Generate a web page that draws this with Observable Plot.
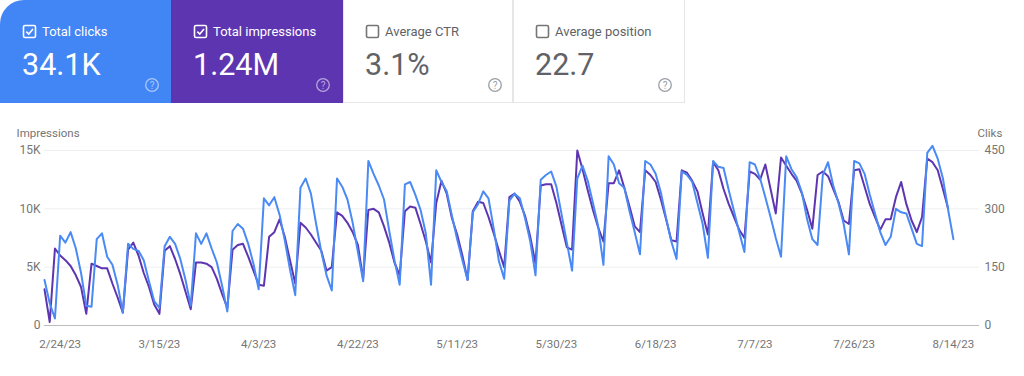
<!DOCTYPE html>
<html>
<head>
<meta charset="utf-8">
<script src="https://cdn.jsdelivr.net/npm/d3@7"></script>
<script src="https://cdn.jsdelivr.net/npm/@observablehq/plot@0.6"></script>
<style>
  html, body { margin: 0; padding: 0; background: #fff; }
  body { width: 1024px; height: 376px; overflow: hidden; font-family: Roboto, "Noto Sans", sans-serif; }
  #header, #chart { display: block; }
  #chart svg { display: block; }
</style>
</head>
<body>
<div id="header"></div>
<div id="chart"></div>
<script>
// ---------- summary cards ----------
const cardTitles = ["Total clicks", "Total impressions", "Average CTR", "Average position"];
const cardValues = ["34.1K", "1.24M", "3.1%", "22.7"];
const cardChecked = [true, true, false, false];
const cardFills = ["#4285f4", "#5e35b1", "#ffffff", "#ffffff"];

// ---------- daily series (2/21/23 .. 8/14/23) ----------
const startDay = "2023-02-21";
const clicks = [
  117,57,18,231,213,240,198,135,51,48,
  222,237,177,156,105,33,210,197,192,168,
  114,63,45,204,228,210,171,117,51,237,
  210,237,198,162,102,36,243,261,249,210,
  159,93,327,309,330,285,219,144,78,354,
  378,339,261,189,129,90,378,357,324,264,
  189,114,423,390,360,324,243,168,105,363,
  369,336,297,237,105,399,369,345,282,222,
  168,117,291,312,345,327,249,165,120,321,
  339,327,276,216,129,375,387,396,357,285,
  213,141,378,411,372,315,255,156,435,414,
  366,354,294,240,183,423,414,390,342,276,
  216,171,396,387,369,315,261,174,423,408,
  405,348,294,240,189,420,414,378,330,279,
  225,177,435,402,381,342,273,222,207,387,
  420,360,315,261,183,423,417,390,336,288,
  240,207,228,300,291,288,249,210,204,444,
  462,429,378,297,222
];
const impressions = [
  3100,300,6600,6000,5600,5100,4300,3300,1000,5300,
  5100,4900,4900,3600,2400,1100,6500,7100,6000,4500,
  3300,1800,1000,6400,6800,5700,4400,2900,1400,5400,
  5400,5300,5000,4000,2700,1500,6500,6900,7000,5900,
  4700,3500,3400,7600,8000,9100,7600,5600,3600,8800,
  8400,7800,7100,6400,4700,5000,9700,9400,8800,8000,
  6900,4000,9900,10000,9700,8500,7100,5400,4300,9800,
  10200,10100,8700,7200,5400,10500,12400,11300,9200,7800,
  6000,3900,9800,10600,10500,9300,7900,6400,5000,11000,
  11300,10600,9400,7600,5300,12000,12100,12100,10500,8600,
  6700,6500,15000,13400,11600,9900,8400,7200,12200,12200,
  13300,11800,10200,8500,8000,13300,12900,12300,10800,9100,
  7300,7200,13300,13100,12400,11500,9600,7800,14000,13300,
  11700,10400,9300,8200,7500,13200,13000,12500,13800,11700,
  9600,14400,13700,13000,12400,11300,9900,8300,12900,13200,
  12800,11700,10600,9000,8700,13300,13400,11900,10400,9300,
  8200,9100,9100,11000,12300,10400,9000,8000,9300,14300,
  14000,13300,11700,10000,null
];

// ---------- axes ----------
const xTickDates = ["2023-02-24","2023-03-15","2023-04-03","2023-04-22","2023-05-11","2023-05-30","2023-06-18","2023-07-07","2023-07-26","2023-08-14"];
const xTickLabels = ["2/24/23","3/15/23","4/3/23","4/22/23","5/11/23","5/30/23","6/18/23","7/7/23","7/26/23","8/14/23"];
const yTicks = [0, 5000, 10000, 15000];
const yLeftLabels = ["0", "5K", "10K", "15K"];
const yRightLabels = ["0", "150", "300", "450"];
const leftTitle = "Impressions";
const rightTitle = "Cliks";
const clicksMax = 450, impressionsMax = 15000;

// ---------- header drawing ----------
const hdr = d3.select("#header").append("svg").attr("width", 1024).attr("height", 104).style("display", "block");
const cardW = [171, 172, 170, 172];
let cx = 0;
cardTitles.forEach((title, i) => {
  const x0 = cx; cx += cardW[i];
  const w = cardW[i];
  const g = hdr.append("g").attr("transform", `translate(${x0},0)`);
  const dark = cardFills[i] !== "#ffffff";
  if (i === 0) {
    g.append("path").attr("d", `M0,24 A24,24 0 0 1 24,0 H${w} V103 H0 Z`).attr("fill", cardFills[i]);
  } else if (dark) {
    g.append("rect").attr("width", w).attr("height", 103).attr("fill", cardFills[i]);
  } else {
    g.append("rect").attr("x", 0.5).attr("y", -1).attr("width", w - 1).attr("height", 103.5)
      .attr("fill", "#fff").attr("stroke", "#e6e6e6");
  }
  const fg = dark ? "#ffffff" : "#5f6368";
  const boxC = dark ? "#ffffff" : "#757575";
  g.append("rect").attr("x", 23.5).attr("y", 25.5).attr("width", 12).attr("height", 12).attr("rx", 1.5)
    .attr("fill", "none").attr("stroke", boxC).attr("stroke-width", 1.6);
  if (cardChecked[i]) {
    g.append("path").attr("d", "M26.3,31.6 L28.8,34.1 L33,29.1").attr("fill", "none")
      .attr("stroke", boxC).attr("stroke-width", 1.6);
  }
  g.append("text").attr("x", 42).attr("y", 35.5).attr("fill", fg).attr("font-size", 13)
    .attr("font-family", "Roboto").text(title);
  g.append("text").attr("x", 22).attr("y", 75).attr("fill", fg).attr("font-size", 30.5)
    .attr("font-family", "Roboto").text(cardValues[i]);
  const hc = dark ? "rgba(255,255,255,0.55)" : "#9aa0a6";
  g.append("circle").attr("cx", 152).attr("cy", 85).attr("r", 6.3).attr("fill", "none")
    .attr("stroke", hc).attr("stroke-width", 1.3);
  g.append("text").attr("x", 152).attr("y", 88.6).attr("text-anchor", "middle").attr("font-size", 10)
    .attr("font-family", "Roboto").attr("fill", hc).text("?");
});

// ---------- chart ----------
const t0 = new Date(startDay);
const rows = clicks.map((c, i) => ({ date: d3.utcDay.offset(t0, i), clicks: c, impressions: impressions[i] }));
const xDomain = [t0, d3.utcDay.offset(t0, 179)];
const tickDates = xTickDates.map(s => new Date(s));
const ratio = impressionsMax / clicksMax;

const chart = Plot.plot({
  width: 1024,
  height: 272,
  marginLeft: 44,
  marginRight: 45,
  marginTop: 46,
  marginBottom: 51,
  style: { fontFamily: "Roboto, sans-serif", fontSize: "12px", color: "#757575", background: "transparent" },
  x: { type: "utc", domain: xDomain },
  y: { domain: [0, impressionsMax] },
  marks: [
    Plot.ruleY(yTicks.slice(1), { stroke: "#eceff1", strokeWidth: 1 }),
    Plot.ruleY([0], { stroke: "#bdbdbd", strokeWidth: 1.2 }),
    Plot.axisY(yTicks, { anchor: "left", tickSize: 0, tickPadding: 4, label: null,
      tickFormat: d => yLeftLabels[yTicks.indexOf(d)] }),
    Plot.axisY(yTicks, { anchor: "right", tickSize: 0, tickPadding: 5, label: null,
      tickFormat: d => yRightLabels[yTicks.indexOf(d)] }),
    Plot.axisX(tickDates, { tickSize: 0, tickPadding: 14, label: null, fontSize: 11.5,
      tickFormat: d => xTickLabels[tickDates.findIndex(t => +t === +d)] }),
    Plot.lineY(rows, { x: "date", y: "impressions", stroke: "#5e35b1", strokeWidth: 2 }),
    Plot.lineY(rows, { x: "date", y: d => d.clicks * ratio, stroke: "#4a8af4", strokeWidth: 2 }),
    Plot.text([leftTitle], { frameAnchor: "top-left", textAnchor: "start", lineAnchor: "middle", dx: -28, dy: -17, fontSize: 11.5, fill: "#757575" }),
    Plot.text([rightTitle], { frameAnchor: "top-right", textAnchor: "start", lineAnchor: "middle", dx: -2, dy: -17, fontSize: 11.5, fill: "#757575" })
  ]
});
document.getElementById("chart").appendChild(chart);
</script>
</body>
</html>
